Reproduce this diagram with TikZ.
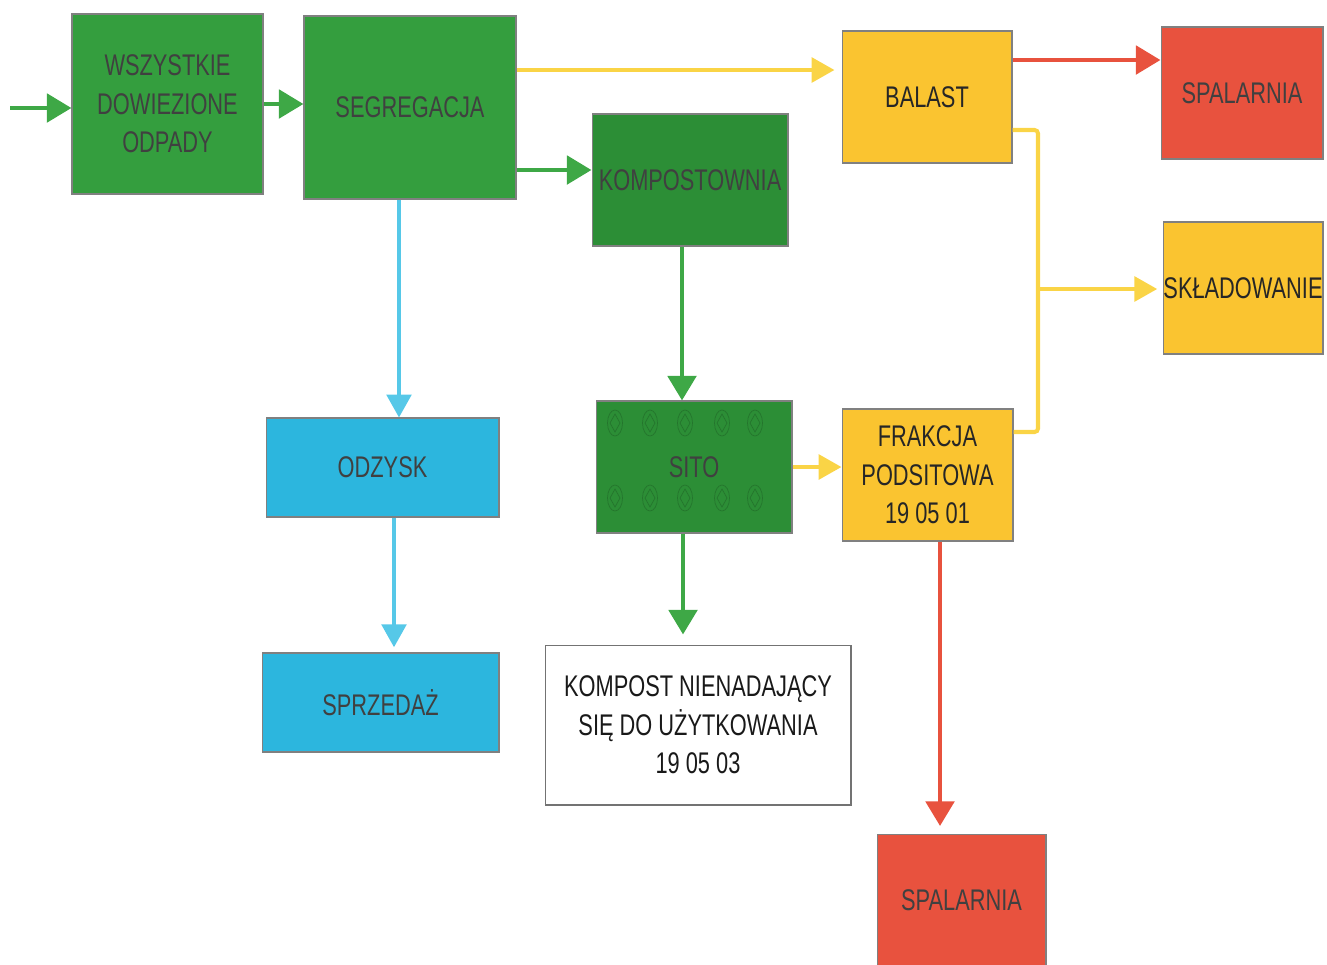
\documentclass[tikz,border=0pt]{standalone}
\usepackage{fontspec}
\setmainfont[FakeStretch=0.73]{Liberation Sans}
\usepackage{tikz}
\usepackage{xcolor}
\usetikzlibrary{arrows.meta}
\definecolor{zielony}{RGB}{52,158,62}
\definecolor{ciemnyziel}{RGB}{44,142,54}
\definecolor{strzziel}{RGB}{62,168,70}
\definecolor{zolty}{RGB}{250,196,48}
\definecolor{strzzolty}{RGB}{250,212,70}
\definecolor{czerwony}{RGB}{232,82,62}
\definecolor{niebieski}{RGB}{44,182,222}
\definecolor{strzniebieski}{RGB}{86,200,232}

\begin{document}
\begin{tikzpicture}
	[x=0.02cm, y=-0.02cm, thick,
	main/.style = {draw=black!50, line width=0.6pt, inner sep=0pt, align=center, text=black!75, font=\fontsize{17}{22}\selectfont},
	gbox/.style = {main, fill=zielony},
	kbox/.style = {main, fill=ciemnyziel},
	ybox/.style = {main, fill=zolty, text=black!85},
	rbox/.style = {main, fill=czerwony},
	cbox/.style = {main, fill=niebieski},
	wbox/.style = {main, fill=white, draw=black!55, text=black!90},
	garr/.style = {strzziel, line width=2.8pt, -{Triangle[length=14pt, width=16pt]}},
	yarr/.style = {strzzolty, line width=2.3pt, -{Triangle[length=13pt, width=14pt]}},
	yln/.style = {strzzolty, line width=2.3pt, rounded corners=2pt},
	rarr/.style = {czerwony, line width=2.8pt, -{Triangle[length=14pt, width=16pt]}},
	carr/.style = {strzniebieski, line width=2pt, -{Triangle[length=13pt, width=14pt]}}]
	\useasboundingbox (0,0) rectangle (1327,964);
	\node[gbox, minimum width=3.82cm, minimum height=3.6cm] (1) at (167.5,104) {WSZYSTKIE\\DOWIEZIONE\\ODPADY};
	\node[gbox, minimum width=4.24cm, minimum height=3.66cm] (2) at (410,107.5) {SEGREGACJA};
	\node[kbox, minimum width=3.92cm, minimum height=2.64cm] (3) at (690,180) {KOMPOSTOWNIA};
	\node[ybox, minimum width=3.4cm, minimum height=2.64cm] (4) at (927,97) {BALAST};
	\node[rbox, minimum width=3.24cm, minimum height=2.64cm] (5) at (1242,93) {SPALARNIA};
	\node[ybox, minimum width=3.2cm, minimum height=2.64cm] (6) at (1243,288) {SKŁADOWANIE};
	\node[cbox, minimum width=4.66cm, minimum height=1.98cm] (7) at (382.5,467.5) {ODZYSK};
	\node[cbox, minimum width=4.74cm, minimum height=1.98cm] (8) at (380.5,702.5) {SPRZEDAŻ};
	\node[kbox, minimum width=3.92cm, minimum height=2.64cm] (9) at (694,467) {SITO};
	\node[ybox, minimum width=3.42cm, minimum height=2.64cm] (10) at (927.5,475) {FRAKCJA\\PODSITOWA\\19 05 01};
	\node[wbox, minimum width=6.12cm, minimum height=3.2cm] (11) at (698,725) {KOMPOST NIENADAJĄCY\\SIĘ DO UŻYTKOWANIA\\19 05 03};
	\node[rbox, minimum width=3.38cm, minimum height=2.64cm] (12) at (961.5,900) {SPALARNIA};
	% sito
	\foreach \x in {615,650,685,722,755}{
		\foreach \y in {423,498}{
			\draw[black!25!ciemnyziel, line width=0.4pt, opacity=0.7] (\x,\y) ellipse [x radius=0.15cm, y radius=0.26cm];
			\draw[black!25!ciemnyziel, line width=0.4pt, opacity=0.7] (\x,\y-9) -- (\x+5,\y) -- (\x,\y+9) -- (\x-5,\y) -- cycle;
		}
	}
	\coordinate (0) at (10,108);
	\coordinate (13) at (1038,289);
	\draw[garr] (0) -- (0 -| 1.west);
	\draw[garr] (1.east) -- (1.east -| 2.west);
	\draw[yarr, shorten >=4pt] ([yshift=0.75cm]2.east) -- ([yshift=0.75cm]2.east -| 4.west);
	\draw[garr] ([yshift=0.2cm]3.west -| 2.east) -- ([yshift=0.2cm]3.west);
	\draw[carr] ([xshift=0.33cm]7.north |- 2.south) -- ([xshift=0.33cm]7.north);
	\draw[carr, shorten >=3pt] ([xshift=0.27cm]8.north |- 7.south) -- ([xshift=0.27cm]8.north);
	\draw[garr] ([xshift=-0.16cm]3.south) -- ([xshift=-0.16cm]3.south |- 9.north);
	\draw[garr, shorten >=0.2cm] ([xshift=-0.22cm]9.south) -- ([xshift=-0.22cm]9.south |- 11.north);
	\draw[yarr] (9.east) -- (9.east -| 10.west);
	\draw[rarr] ([yshift=0.74cm]4.east) -- ([yshift=0.74cm]4.east -| 5.west);
	\draw[yln] ([yshift=-0.66cm]4.east) -| (13) |- ([yshift=0.86cm]10.east);
	\draw[yarr, shorten >=3pt] (13) -- (13 -| 6.west);
	\draw[rarr, shorten >=0.15cm] ([xshift=0.25cm]10.south) -- ([xshift=0.25cm]10.south |- 12.north);
\end{tikzpicture}
\end{document}
